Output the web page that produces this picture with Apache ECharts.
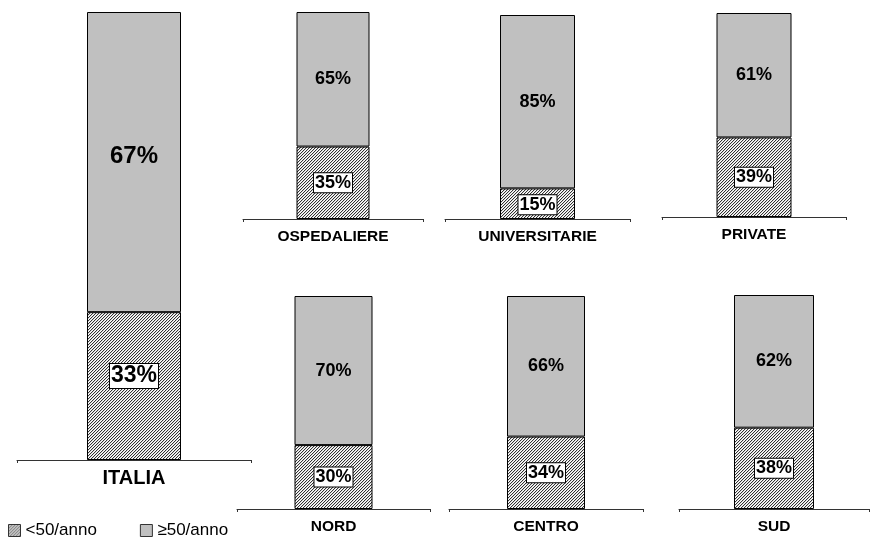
<!DOCTYPE html>
<html>
<head>
<meta charset="utf-8">
<script src="https://cdn.jsdelivr.net/npm/echarts@6/dist/echarts.min.js"></script>
<style>html,body{margin:0;padding:0;background:#fff}#c{width:870px;height:539px}</style>
</head>
<body>
<div id="c"></div>
<script>
const categories = ['ITALIA','OSPEDALIERE','UNIVERSITARIE','PRIVATE','NORD','CENTRO','SUD'];
const below50 = [33,35,15,39,30,34,38];
const above50 = [67,65,85,61,70,66,62];
const seriesNames = ['<50/anno','\u226550/anno'];

// layout (pixels): grid left, top, width, height, bar width, fonts, label offsets
const layout = [
  {l:17,  t:12,  w:234, h:448, bw:94, fTop:24, fBot:23, fCat:20, m:8,  oT:-6, oB:-10},
  {l:243, t:12,  w:180, h:207, bw:73, fTop:18, fBot:18, fCat:15.5, m:10, oT:0, oB:0},
  {l:445, t:15,  w:185, h:204, bw:75, fTop:18, fBot:18, fCat:15.5, m:10, oT:0, oB:1},
  {l:662, t:13,  w:184, h:204, bw:75, fTop:18, fBot:18, fCat:15.5, m:10, oT:0, oB:0},
  {l:237, t:296, w:193, h:213, bw:78, fTop:18, fBot:18, fCat:15.5, m:10, oT:0, oB:0},
  {l:449, t:296, w:194, h:213, bw:78, fTop:18, fBot:18, fCat:15.5, m:10, oT:0, oB:0},
  {l:679, t:295, w:190, h:214, bw:80, fTop:18, fBot:18, fCat:15.5, m:10, oT:0, oB:0}
];

function hatch(){
  const n=3;
  const c=document.createElement('canvas'); c.width=n; c.height=n;
  const ctx=c.getContext('2d'); const img=ctx.createImageData(n,n);
  const tones=[50,215,255];
  for(let y=0;y<n;y++)for(let x=0;x<n;x++){
    const v=(x+y)%n; const i=(y*n+x)*4;
    const g=tones[v];
    img.data[i]=g;img.data[i+1]=g;img.data[i+2]=g;img.data[i+3]=255;
  }
  ctx.putImageData(img,0,0); return c;
}
const hatchPattern = {image: hatch(), repeat: 'repeat'};
const FONT = '"Liberation Sans", Arial, sans-serif';

const grids=[], xAxes=[], yAxes=[], series=[];
categories.forEach((cat,i)=>{
  const L=layout[i];
  grids.push({left:L.l, top:L.t, width:L.w, height:L.h, containLabel:false});
  xAxes.push({type:'category', gridIndex:i, data:[cat], boundaryGap:true,
    axisLine:{show:true, lineStyle:{color:'#333', width:1}},
    axisTick:{show:true, length:3, lineStyle:{color:'#333'}},
    axisLabel:{margin:L.m, color:'#000', fontFamily:FONT, fontWeight:'bold', fontSize:L.fCat}});
  yAxes.push({type:'value', gridIndex:i, min:0, max:100, show:false});
  series.push({name:seriesNames[0], type:'bar', stack:'s'+i, xAxisIndex:i, yAxisIndex:i,
    barWidth:L.bw, data:[below50[i]],
    itemStyle:{color:hatchPattern, borderColor:'#000', borderWidth:1},
    label:{show:true, position:'inside', offset:[0,L.oB], formatter:'{c}%', color:'#000', fontFamily:FONT,
      fontWeight:'bold', fontSize:L.fBot, backgroundColor:'#fff', borderColor:'#000',
      borderWidth:1, padding:[1,1,0,1]}});
  series.push({name:seriesNames[1], type:'bar', stack:'s'+i, xAxisIndex:i, yAxisIndex:i,
    barWidth:L.bw, data:[above50[i]],
    itemStyle:{color:'#c0c0c0', borderColor:'#000', borderWidth:1},
    label:{show:true, position:'inside', offset:[0,L.oT], formatter:'{c}%', color:'#000', fontFamily:FONT,
      fontWeight:'bold', fontSize:L.fTop}});
});

const chart = echarts.init(document.getElementById('c'), null, {renderer:'canvas'});
chart.setOption({
  animation:false,
  backgroundColor:'#fff',
  grid:grids, xAxis:xAxes, yAxis:yAxes, series:series,
  legend:{data:seriesNames, left:3, top:517, itemWidth:12, itemHeight:12, itemGap:43,
    icon:'rect', textStyle:{fontFamily:FONT, fontSize:17, color:'#000'},
    itemStyle:{borderColor:'#333', borderWidth:1}}
});
</script>
</body>
</html>
